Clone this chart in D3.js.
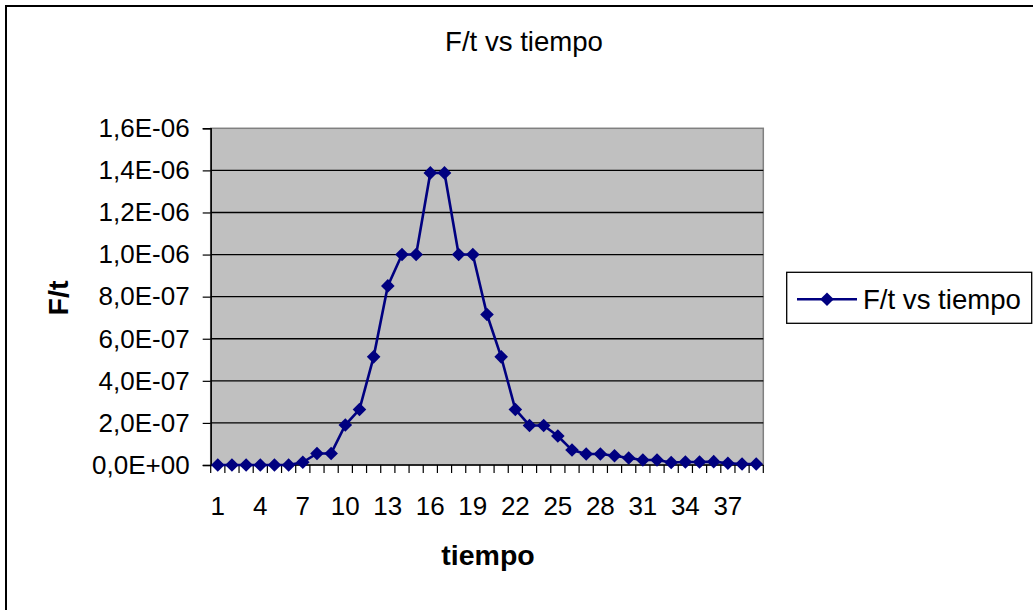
<!DOCTYPE html>
<html>
<head>
<meta charset="utf-8">
<script src="https://cdn.jsdelivr.net/npm/d3@7"></script>
<style>
  html, body { margin: 0; padding: 0; background: #fff; }
  svg { display: block; font-family: "Liberation Sans", Arial, sans-serif; }
</style>
</head>
<body>
<svg id="chart" width="1033" height="610"></svg>
<script>
// Time steps (categories) and F/t values per step
const tiempo = [1, 2, 3, 4, 5, 6, 7, 8, 9, 10, 11, 12, 13, 14, 15, 16, 17, 18, 19, 20,
                21, 22, 23, 24, 25, 26, 27, 28, 29, 30, 31, 32, 33, 34, 35, 36, 37, 38, 39];
const fT = [0, 0, 0, 0, 0, 0, 1.3e-8, 5.5e-8, 5.5e-8, 1.9e-7,
            2.64e-7, 5.14e-7, 8.51e-7, 1.0e-6, 1.0e-6, 1.388e-6, 1.388e-6, 1.0e-6, 1.0e-6, 7.15e-7,
            5.14e-7, 2.64e-7, 1.88e-7, 1.88e-7, 1.38e-7, 7.1e-8, 5.2e-8, 5.2e-8, 4.4e-8, 3.3e-8,
            2.4e-8, 2.4e-8, 1.2e-8, 1.4e-8, 1.4e-8, 1.6e-8, 8e-9, 5e-9, 5e-9];
const yTicks = [0, 2e-7, 4e-7, 6e-7, 8e-7, 1.0e-6, 1.2e-6, 1.4e-6, 1.6e-6];
const xTickLabels = [1, 4, 7, 10, 13, 16, 19, 22, 25, 28, 31, 34, 37];
const seriesName = "F/t vs tiempo";

const svg = d3.select("#chart");
const plot = { left: 210.7, right: 763.3, top: 128.3, bottom: 465 };
const navy = "#000080";
const tickFont = 26;
const titleFont = 27.6;
const axisTitleFont = 28.5;

// Chart border (left and top edges visible in the frame)
svg.append("rect")
  .attr("x", 6).attr("y", 6).attr("width", 1040).attr("height", 620)
  .attr("fill", "#fff").attr("stroke", "#000").attr("stroke-width", 2);

const x = d3.scaleBand().domain(tiempo).range([plot.left, plot.right]).padding(0);
const y = d3.scaleLinear().domain([0, 1.6e-6]).range([plot.bottom, plot.top]);
const cx = d => x(d) + x.bandwidth() / 2;

// Plot area background
svg.append("rect")
  .attr("x", plot.left).attr("y", plot.top)
  .attr("width", plot.right - plot.left).attr("height", plot.bottom - plot.top)
  .attr("fill", "#c0c0c0").attr("stroke", "#808080").attr("stroke-width", 1.5);

// Horizontal gridlines
svg.append("g").selectAll("line")
  .data(yTicks.filter(d => d > 0 && d < 1.6e-6))
  .join("line")
  .attr("x1", plot.left).attr("x2", plot.right)
  .attr("y1", d => y(d)).attr("y2", d => y(d))
  .attr("stroke", "#000").attr("stroke-width", 1.3);

// Scientific-notation labels with a decimal comma, e.g. 1,6E-06
function sciFmt(v) {
  if (v === 0) return "0,0E+00";
  const [m, e] = v.toExponential(1).split("e");
  const ex = parseInt(e, 10);
  const sign = ex < 0 ? "-" : "+";
  return m.replace(".", ",") + "E" + sign + String(Math.abs(ex)).padStart(2, "0");
}

// Y axis
const yAxis = d3.axisLeft(y).tickValues(yTicks).tickFormat(sciFmt).tickSize(8).tickPadding(13);
const gy = svg.append("g").attr("transform", `translate(${plot.left},0)`).call(yAxis);
gy.select(".domain").attr("stroke", "#000").attr("stroke-width", 1.5);
gy.selectAll(".tick line").attr("stroke", "#000").attr("stroke-width", 1.2);
gy.selectAll(".tick text").attr("font-size", tickFont).attr("fill", "#000")
  .attr("font-family", "Liberation Sans, Arial, sans-serif");

// X axis: ticks at category boundaries, labels every third category
const boundaries = tiempo.map(d => x(d)).concat([plot.right]);
svg.append("g").selectAll("line")
  .data(boundaries)
  .join("line")
  .attr("x1", d => d).attr("x2", d => d)
  .attr("y1", plot.bottom).attr("y2", plot.bottom + 8)
  .attr("stroke", "#000").attr("stroke-width", 1.2);
svg.append("line")
  .attr("x1", plot.left).attr("x2", plot.right)
  .attr("y1", plot.bottom).attr("y2", plot.bottom)
  .attr("stroke", "#000").attr("stroke-width", 1.5);
svg.append("g").selectAll("text")
  .data(xTickLabels)
  .join("text")
  .attr("x", d => cx(d)).attr("y", 515)
  .attr("text-anchor", "middle").attr("font-size", tickFont).attr("fill", "#000")
  .text(d => d);

// Series line and diamond markers
const line = d3.line().x((d, i) => cx(tiempo[i])).y(d => y(d));
svg.append("path")
  .datum(fT)
  .attr("d", line)
  .attr("fill", "none").attr("stroke", navy).attr("stroke-width", 2.6);

const diamondPath = "M0,-6.8L6.8,0L0,6.8L-6.8,0Z";
svg.append("g").selectAll("path")
  .data(fT)
  .join("path")
  .attr("transform", (d, i) => `translate(${cx(tiempo[i])},${y(d)})`)
  .attr("d", diamondPath)
  .attr("fill", navy);

// Titles
svg.append("text")
  .attr("x", 524).attr("y", 51)
  .attr("text-anchor", "middle").attr("font-size", titleFont).attr("fill", "#000")
  .text(seriesName);
svg.append("text")
  .attr("x", 488).attr("y", 565)
  .attr("text-anchor", "middle").attr("font-size", axisTitleFont).attr("font-weight", "bold")
  .attr("fill", "#000")
  .text("tiempo");
svg.append("text")
  .attr("transform", "translate(68,298) rotate(-90)")
  .attr("text-anchor", "middle").attr("font-size", axisTitleFont).attr("font-weight", "bold")
  .attr("fill", "#000")
  .text("F/t");

// Legend
const lg = svg.append("g");
lg.append("rect")
  .attr("x", 786.7).attr("y", 272.3).attr("width", 245).attr("height", 51)
  .attr("fill", "#fff").attr("stroke", "#000").attr("stroke-width", 1.3);
lg.append("line")
  .attr("x1", 797).attr("x2", 857).attr("y1", 299.3).attr("y2", 299.3)
  .attr("stroke", navy).attr("stroke-width", 2.6);
lg.append("path")
  .attr("transform", "translate(827,299.3)")
  .attr("d", diamondPath).attr("fill", navy);
lg.append("text")
  .attr("x", 863).attr("y", 309)
  .attr("font-size", titleFont).attr("fill", "#000")
  .text(seriesName);
</script>
</body>
</html>
